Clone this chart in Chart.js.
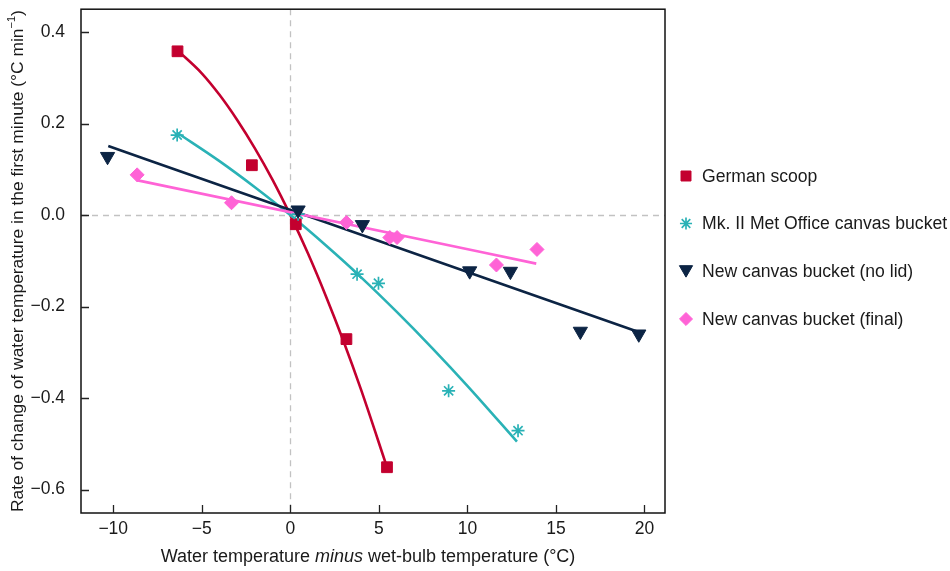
<!DOCTYPE html>
<html><head><meta charset="utf-8">
<style>html,body{margin:0;padding:0;background:#fff}#wrap{width:950px;height:571px}</style>
<script src="https://cdn.jsdelivr.net/npm/chart.js@4.4.1/dist/chart.umd.min.js"></script>
</head><body><div id="wrap"><canvas id="c" width="950" height="571"></canvas></div>
<script>
// ---- data ----
const seriesNames = ['German scoop', 'Mk. II Met Office canvas bucket', 'New canvas bucket (no lid)', 'New canvas bucket (final)'];
const germanX = [-6.37, -2.17, 0.31, 3.17, 5.46];
const germanY = [0.358, 0.109, -0.020, -0.271, -0.551];
const mk2X = [-6.39, 0.44, 3.77, 4.98, 8.94, 12.86];
const mk2Y = [0.175, 0.002, -0.129, -0.149, -0.384, -0.471];
const noLidX = [-10.32, 0.44, 4.07, 10.13, 12.43, 16.38, 19.68];
const noLidY = [0.128, 0.011, -0.021, -0.122, -0.123, -0.254, -0.260];
const finalX = [-8.65, -3.32, 3.17, 5.62, 6.03, 11.64, 13.93];
const finalY = [0.088, 0.027, -0.016, -0.049, -0.049, -0.109, -0.075];
// fitted curves (traced)
const germanFitX = [-6.37, -5, -4, -3, -2, -1, 0, 1, 2, 3, 4, 5.46];
const germanFitY = [0.360, 0.310, 0.263, 0.208, 0.146, 0.077, 0.0, -0.084, -0.176, -0.275, -0.382, -0.551];
const mk2FitX = [-6.39, -4, -2, 0, 2, 4, 6, 8, 10, 12.8];
const mk2FitY = [0.180, 0.118, 0.061, 0.0, -0.066, -0.136, -0.211, -0.290, -0.373, -0.495];
const noLidFitX = [-10.28, 19.63];
const noLidFitY = [0.151, -0.255];
const finalFitX = [-8.68, 13.89];
const finalFitY = [0.0765, -0.106];
// axes
const xTicks = [-10, -5, 0, 5, 10, 15, 20];
const xTickLabels = ['\u221210', '\u22125', '0', '5', '10', '15', '20'];
const yTicks = [-0.6, -0.4, -0.2, 0.0, 0.2, 0.4];
const yTickLabels = ['\u22120.6', '\u22120.4', '\u22120.2', '0.0', '0.2', '0.4'];

const colors = ['#C3002F', '#2AB2B6', '#0C2444', '#FF63D6'];
const FONT = '"Liberation Sans", Arial, Helvetica, sans-serif';
const TXT = '#1a1a1a';

const pts = (xs, ys) => xs.map((x, i) => ({x, y: ys[i]}));

const markerStyles = [
  {pointStyle: 'rect', radius: 7.6, rotation: 0, borderWidth: 1},
  {pointStyle: 'star', radius: 6.5, rotation: 0, borderWidth: 1.7},
  {pointStyle: 'triangle', radius: 8.2, rotation: 180, borderWidth: 1},
  {pointStyle: 'rectRot', radius: 7, rotation: 0, borderWidth: 1}
];

const markerData = [pts(germanX, germanY), pts(mk2X, mk2Y), pts(noLidX, noLidY), pts(finalX, finalY)];
const fitData = [pts(germanFitX, germanFitY), pts(mk2FitX, mk2FitY), pts(noLidFitX, noLidFitY), pts(finalFitX, finalFitY)];

const datasets = [];
for (let i = 0; i < 4; i++) {
  datasets.push({
    label: seriesNames[i] + ' fit', data: fitData[i], showLine: true,
    borderColor: colors[i], backgroundColor: colors[i], borderWidth: 2.6,
    pointRadius: 0, cubicInterpolationMode: 'monotone', order: 10 - i
  });
  const m = markerStyles[i];
  datasets.push({
    label: seriesNames[i], data: markerData[i], showLine: false,
    borderColor: colors[i], backgroundColor: colors[i],
    pointStyle: m.pointStyle, pointRadius: m.radius, pointRotation: m.rotation,
    pointBorderWidth: m.borderWidth, order: 5 - i
  });
}

const customPlugin = {
  id: 'custom',
  beforeDatasetsDraw(chart) {
    const {ctx, chartArea: a, scales: {x, y}} = chart;
    ctx.save();
    ctx.strokeStyle = '#c2c2c2'; ctx.lineWidth = 1.3; ctx.setLineDash([6, 5]);
    const x0 = Math.round(x.getPixelForValue(0)) + 0.5;
    const y0 = Math.round(y.getPixelForValue(0)) + 0.5;
    ctx.beginPath();
    ctx.moveTo(x0, a.top); ctx.lineTo(x0, a.bottom);
    ctx.moveTo(a.left, y0); ctx.lineTo(a.right, y0);
    ctx.stroke();
    ctx.restore();
  },
  afterDraw(chart) {
    const {ctx, chartArea: a, scales: {x, y}} = chart;
    ctx.save();
    // frame
    ctx.strokeStyle = '#111'; ctx.lineWidth = 1.5; ctx.setLineDash([]);
    ctx.strokeRect(a.left, a.top, a.right - a.left, a.bottom - a.top);
    // inward ticks
    ctx.lineWidth = 1.3; ctx.strokeStyle = '#222';
    ctx.beginPath();
    xTicks.forEach(v => { const px = Math.round(x.getPixelForValue(v)) + 0.5; ctx.moveTo(px, a.bottom); ctx.lineTo(px, a.bottom - 8); });
    yTicks.forEach(v => { const py = Math.round(y.getPixelForValue(v)) + 0.5; ctx.moveTo(a.left, py); ctx.lineTo(a.left + 8, py); });
    ctx.stroke();
    // x title with italic "minus"
    ctx.fillStyle = TXT; ctx.textBaseline = 'middle'; ctx.textAlign = 'left';
    const parts = [['Water temperature ', 'normal'], ['minus', 'italic'], [' wet-bulb temperature (\u00b0C)', 'normal']];
    let total = 0;
    parts.forEach(p => { ctx.font = p[1] + ' 18px ' + FONT; total += ctx.measureText(p[0]).width; });
    let cx = (a.left + a.right) / 2 - 5 - total / 2;
    parts.forEach(p => { ctx.font = p[1] + ' 18px ' + FONT; ctx.fillText(p[0], cx, 557); cx += ctx.measureText(p[0]).width; });
    // y title (rotated) with superscript
    ctx.save();
    ctx.translate(18, (a.top + a.bottom) / 2);
    ctx.rotate(-Math.PI / 2);
    const yp = [['Rate of change of water temperature in the first minute (\u00b0C min', 17.4, 0], ['\u22121', 11, -6], [')', 17.4, 0]];
    total = 0;
    yp.forEach(p => { ctx.font = p[1] + 'px ' + FONT; total += ctx.measureText(p[0]).width; });
    cx = -total / 2;
    yp.forEach(p => { ctx.font = p[1] + 'px ' + FONT; ctx.fillText(p[0], cx, p[2]); cx += ctx.measureText(p[0]).width; });
    ctx.restore();
    // legend
    const legY = [176, 223.5, 271.5, 319];
    ctx.font = '17.6px ' + FONT; ctx.textBaseline = 'middle'; ctx.textAlign = 'left';
    for (let i = 0; i < 4; i++) {
      const m = markerStyles[i];
      ctx.fillStyle = colors[i]; ctx.strokeStyle = colors[i]; ctx.lineWidth = m.borderWidth;
      let my = legY[i];
      if (m.pointStyle === 'triangle') my -= 2;
      Chart.helpers.drawPoint(ctx, {pointStyle: m.pointStyle, radius: m.radius * 0.93, rotation: m.rotation, borderWidth: m.borderWidth}, 686, my);
      ctx.fillStyle = TXT;
      ctx.fillText(seriesNames[i], 702, legY[i] + 1);
    }
    ctx.restore();
  }
};

new Chart(document.getElementById('c'), {
  type: 'scatter',
  data: {datasets},
  options: {
    responsive: false, animation: false, devicePixelRatio: 1,
    layout: {padding: {left: 0, right: 285, top: 9, bottom: 0}},
    plugins: {legend: {display: false}, tooltip: {enabled: false}},
    scales: {
      x: {
        type: 'linear', min: -11.82, max: 21.16,
        grid: {display: false, drawTicks: false}, border: {display: false},
        afterBuildTicks: s => { s.ticks = xTicks.map(v => ({value: v})); },
        afterFit: s => { s.height = 58; s.paddingLeft = 0; s.paddingRight = 0; s.paddingTop = 0; s.paddingBottom = 0; },
        ticks: {font: {family: FONT, size: 17.5}, color: TXT, padding: 6, autoSkip: false, maxRotation: 0,
          callback: (v, i) => xTickLabels[i]}
      },
      y: {
        type: 'linear', min: -0.651, max: 0.45,
        grid: {display: false, drawTicks: false}, border: {display: false},
        afterBuildTicks: s => { s.ticks = yTicks.map(v => ({value: v})); },
        afterFit: s => { s.width = 81; s.paddingLeft = 0; s.paddingRight = 0; s.paddingTop = 0; s.paddingBottom = 0; },
        ticks: {font: {family: FONT, size: 17.5}, color: TXT, padding: 16, autoSkip: false,
          callback: (v, i) => yTickLabels[i]}
      }
    }
  },
  plugins: [customPlugin]
});
</script>
</body></html>
